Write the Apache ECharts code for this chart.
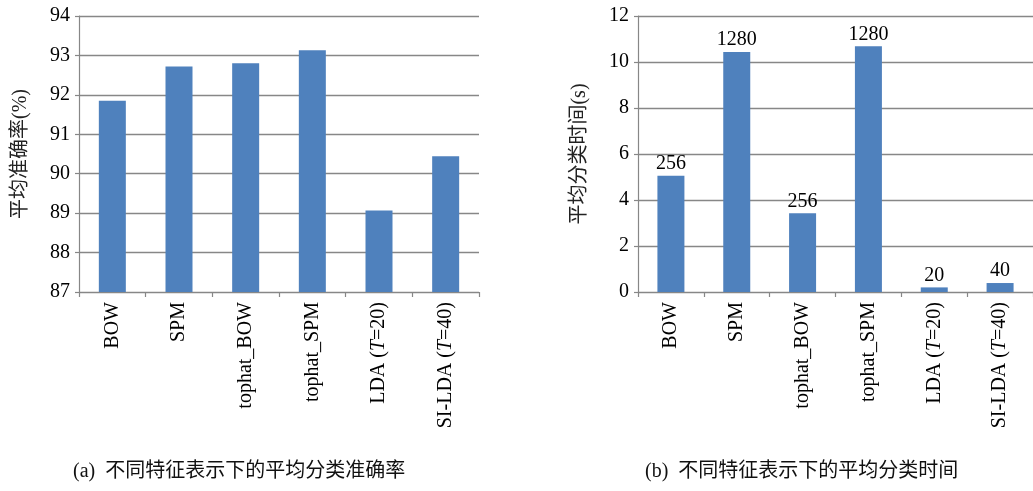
<!DOCTYPE html>
<html><head><meta charset="utf-8">
<script src="https://cdn.jsdelivr.net/npm/echarts@6/dist/echarts.min.js"></script>
<style>html,body{margin:0;padding:0;background:#fff}#c{width:1033px;height:491px}</style>
</head><body><div id="c"></div>
<script>
var categories = ['BOW','SPM','tophat_BOW','tophat_SPM','LDA (T=20)','SI-LDA (T=40)'];
var accuracy = [91.85, 92.72, 92.80, 93.13, 89.07, 90.44];
var timeSec = [5.05, 10.44, 3.42, 10.68, 0.20, 0.39];
var timeLabels = ['256','1280','256','1280','20','40'];
var captionA = '(a)  不同特征表示下的平均分类准确率';
var captionB = '(b)  不同特征表示下的平均分类时间';
var yNameA = '平均准确率(%)';
var yNameB = '平均分类时间(s)';

var FONT = "'Liberation Serif', 'Noto Sans CJK SC', serif";
var GRAY = '#878787';
var BAR = '#4f81bd';

function catFmt(v){
  var m = v.match(/^(.*\()T(=.*)$/);
  if (m) return '{n|' + m[1] + '}{i|T}{n|' + m[2] + '}';
  return '{n|' + v + '}';
}
function xAxis(idx){
  return {
    type:'category', gridIndex:idx, data:categories,
    axisLine:{lineStyle:{color:GRAY,width:1.2}},
    axisTick:{show:true,length:5,lineStyle:{color:GRAY,width:1.2}},
    axisLabel:{rotate:90,margin:10,color:'#000',formatter:catFmt,
      rich:{n:{fontFamily:FONT,fontSize:20,color:'#000'},
            i:{fontFamily:FONT,fontSize:20,fontStyle:'italic',color:'#000'}}}
  };
}
function yAxis(idx,min,max,interval,name){
  return {
    type:'value', gridIndex:idx, min:min, max:max, interval:interval,
    name:name, nameLocation:'middle', nameRotate:90, nameGap:48,
    nameTextStyle:{fontFamily:FONT,fontSize:20,color:'#222'},
    axisLine:{show:true,lineStyle:{color:GRAY,width:1.2}},
    axisTick:{show:true,length:4,lineStyle:{color:GRAY,width:1.2}},
    axisLabel:{fontFamily:FONT,fontSize:20,color:'#000',margin:9},
    splitLine:{show:true,lineStyle:{color:GRAY,width:1.4}}
  };
}
var chart = echarts.init(document.getElementById('c'), null, {renderer:'canvas'});
chart.setOption({
  animation:false,
  backgroundColor:'#fff',
  grid:[
    {left:79, top:16, width:400, height:276},
    {left:638, top:16, width:400, height:276}
  ],
  xAxis:[xAxis(0), xAxis(1)],
  yAxis:[yAxis(0,87,94,1,yNameA), yAxis(1,0,12,2,yNameB)],
  series:[
    {type:'bar', xAxisIndex:0, yAxisIndex:0, data:accuracy, barWidth:27,
     itemStyle:{color:BAR}},
    {type:'bar', xAxisIndex:1, yAxisIndex:1, data:timeSec, barWidth:27,
     itemStyle:{color:BAR},
     label:{show:true, position:'top', distance:2, fontFamily:FONT, fontSize:20, color:'#000',
       formatter:function(p){return timeLabels[p.dataIndex];}}}
  ],
  graphic:[
    {type:'text', left:73, top:462, style:{text:captionA, font:"20px 'Liberation Serif', 'Noto Sans CJK SC'", fill:'#111'}},
    {type:'text', left:645, top:462, style:{text:captionB, font:"20px 'Liberation Serif', 'Noto Sans CJK SC'", fill:'#111'}}
  ]
});
</script>
</body></html>
